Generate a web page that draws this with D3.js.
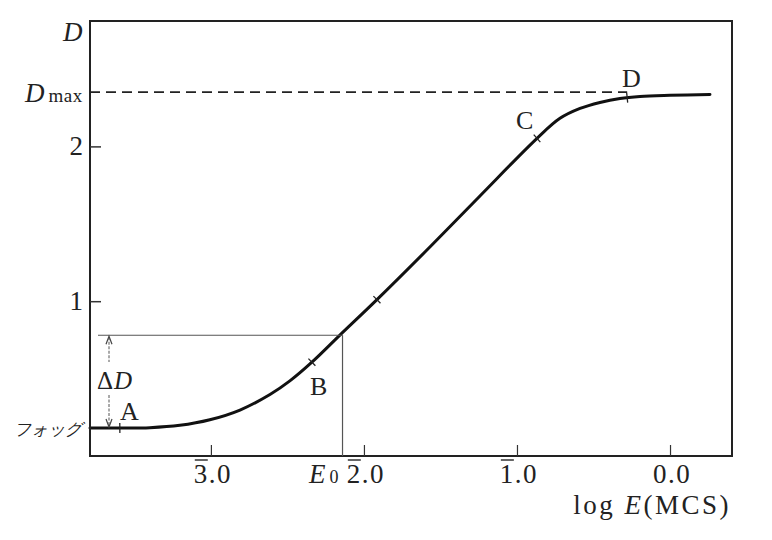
<!DOCTYPE html>
<html><head><meta charset="utf-8">
<script src="https://cdn.jsdelivr.net/npm/d3@7"></script>
<style>
html,body{margin:0;padding:0;background:#fff;}
svg{display:block;}
text{font-family:"Liberation Serif","DejaVu Serif",serif;fill:#222;}
</style></head>
<body>
<svg id="chart" width="772" height="540"></svg>
<script>
// ---- data ----
const curveLogE = [-3.79, -3.595, -3.399, -3.203, -3.007, -2.81, -2.614, -2.484, -2.34, -2.157, -1.915, -1.569, -1.242, -0.869, -0.719, -0.588, -0.458, -0.327, -0.196, 0.0, 0.261];
const curveD    = [0.181, 0.181, 0.183, 0.198, 0.234, 0.297, 0.397, 0.485, 0.606, 0.781, 1.01, 1.35, 1.68, 2.052, 2.181, 2.245, 2.284, 2.31, 2.323, 2.33, 2.335];
const xTickValues = [-3, -2, -1, 0];
const xTickDigits = ["3", "2", "1", "0"];
const xTickBar    = [true, true, true, false];
const yTickValues = [1, 2];
const markNames = ["A", "B", "C", "D", ""];
const markLogE  = [-3.595, -2.34, -0.869, -0.28, -1.915];
const fogD = 0.181;
const dMax = 2.35;
const E0 = -2.14;
const D0 = 0.78;

// ---- scales ----
const x = d3.scaleLinear().domain([-3.79, 0.405]).range([90, 732]);
const y = d3.scaleLinear().domain([0, 2.81]).range([456, 21]);
const svg = d3.select("#chart");
const pts = curveLogE.map((v, i) => [v, curveD[i]]);
const lineGen = d3.line().x(d => x(d[0])).y(d => y(d[1])).curve(d3.curveCatmullRom.alpha(0.5));
svg.append("path").attr("d", lineGen(pts))
  .attr("fill", "none").attr("stroke", "#111").attr("stroke-width", 3).attr("stroke-linecap", "round");

// frame
svg.append("rect").attr("x", x.range()[0]).attr("y", y.range()[1])
  .attr("width", x.range()[1] - x.range()[0]).attr("height", y.range()[0] - y.range()[1])
  .attr("fill", "none").attr("stroke", "#222").attr("stroke-width", 2);

// x ticks (inward)
const xAxis = d3.axisTop(x).tickValues(xTickValues).tickSize(11).tickFormat("");
const gx = svg.append("g").attr("transform", `translate(0,${y(0)})`).call(xAxis);
gx.select(".domain").remove();
gx.selectAll(".tick line").attr("stroke", "#333").attr("stroke-width", 1.2);
// y ticks (inward)
const yAxis = d3.axisRight(y).tickValues(yTickValues).tickSize(11).tickFormat("");
const gy = svg.append("g").attr("transform", `translate(${x(-3.79)},0)`).call(yAxis);
gy.select(".domain").remove();
gy.selectAll(".tick line").attr("stroke", "#333").attr("stroke-width", 1.5);

// y tick labels
yTickValues.forEach(v => {
  svg.append("text").attr("x", 83).attr("y", y(v) + 9).attr("text-anchor", "end")
    .attr("font-size", 27).text(v);
});

// x tick labels with overbar
xTickValues.forEach((v, i) => {
  const t = svg.append("text").attr("x", x(v) + 2).attr("y", 483).attr("text-anchor", "middle")
    .attr("font-size", 27).attr("letter-spacing", 1.5).text(xTickDigits[i] + ".0");
  if (xTickBar[i]) {
    const bb = t.node().getBBox();
    const w1 = t.node().getSubStringLength(0, 1);
    svg.append("line").attr("x1", bb.x + 1).attr("x2", bb.x + w1 - 1)
      .attr("y1", 460).attr("y2", 460).attr("stroke", "#333").attr("stroke-width", 1.5);
  }
});

// E0 label
const e0 = svg.append("text").attr("x", 309).attr("y", 483).attr("font-size", 27);
e0.append("tspan").attr("font-style", "italic").text("E");
e0.append("tspan").attr("font-size", 18).attr("dx", 4).text("0");

// axis title
const at = svg.append("text").attr("x", 731).attr("y", 514).attr("text-anchor", "end")
  .attr("font-size", 27).attr("letter-spacing", 2.5);
at.append("tspan").text("log ");
at.append("tspan").attr("font-style", "italic").text("E");
at.append("tspan").text("(MCS)");

// y title D and Dmax
svg.append("text").attr("x", 63).attr("y", 41).attr("font-size", 27).attr("font-style", "italic").text("D");
const dm = svg.append("text").attr("x", 25).attr("y", 102).attr("font-size", 27);
dm.append("tspan").attr("font-style", "italic").text("D");
dm.append("tspan").attr("font-size", 19).attr("dx", 4).attr("letter-spacing", 0.5).text("max");

// Dmax dashed line
svg.append("line").attr("x1", x(-3.79)).attr("x2", x(-0.28)).attr("y1", y(dMax)).attr("y2", y(dMax))
  .attr("stroke", "#222").attr("stroke-width", 1.8).attr("stroke-dasharray", "10,6");

// E0 guides
svg.append("line").attr("x1", 98).attr("x2", x(E0)).attr("y1", y(D0)).attr("y2", y(D0))
  .attr("stroke", "#555").attr("stroke-width", 1.2);
svg.append("line").attr("x1", x(E0)).attr("x2", x(E0)).attr("y1", y(D0)).attr("y2", y(0))
  .attr("stroke", "#555").attr("stroke-width", 1.2);

// delta D arrows
const ax = 109;
svg.append("line").attr("x1", ax).attr("x2", ax).attr("y1", y(D0) + 2).attr("y2", 362)
  .attr("stroke", "#555").attr("stroke-width", 1).attr("stroke-dasharray", "3,1.5");
svg.append("line").attr("x1", ax).attr("x2", ax).attr("y1", 395).attr("y2", y(fogD) - 2)
  .attr("stroke", "#555").attr("stroke-width", 1).attr("stroke-dasharray", "3,1.5");
svg.append("path").attr("d", `M${ax - 3},${y(D0) + 9} L${ax},${y(D0) + 1} L${ax + 3},${y(D0) + 9}`)
  .attr("fill", "none").attr("stroke", "#444").attr("stroke-width", 1.2);
svg.append("path").attr("d", `M${ax - 3},${y(fogD) - 9} L${ax},${y(fogD) - 1} L${ax + 3},${y(fogD) - 9}`)
  .attr("fill", "none").attr("stroke", "#444").attr("stroke-width", 1.2);
const dd = svg.append("text").attr("x", 97).attr("y", 389).attr("font-size", 25).attr("fill", "#555");
dd.append("tspan").text("Δ");
dd.append("tspan").attr("font-style", "italic").attr("dx", 1).text("D");

// fog label
svg.append("text").attr("x", 82).attr("y", 435).attr("text-anchor", "end")
  .attr("font-family", "'Noto Sans CJK JP'").attr("font-style", "italic")
  .attr("font-size", 17).attr("fill", "#333").text("フォッグ");

// point marks on curve (small perpendicular ticks)
const interp = d3.scaleLinear().domain(curveLogE).range(curveD);
markLogE.forEach((v) => {
  const px = x(v), py = y(interp(v));
  const dx = x(v + 0.01) - px, dy = y(interp(v + 0.01)) - py;
  const len = Math.hypot(dx, dy);
  const nx = -dy / len, ny = dx / len;
  svg.append("line").attr("x1", px - nx * 5).attr("y1", py - ny * 5)
    .attr("x2", px + nx * 5).attr("y2", py + ny * 5)
    .attr("stroke", "#222").attr("stroke-width", 1.3);
});

// point letters
const labelPos = [[120, 420], [310, 395], [516, 129], [622, 87]];
markNames.slice(0, 4).forEach((n, i) => {
  svg.append("text").attr("x", labelPos[i][0]).attr("y", labelPos[i][1])
    .attr("font-size", 26).attr("fill", "#333").text(n);
});
</script>
</body></html>
